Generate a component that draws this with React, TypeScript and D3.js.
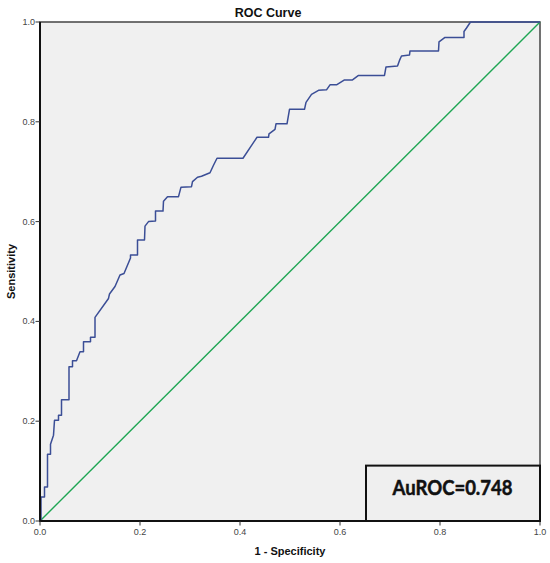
import React from "react";
import * as d3 from "d3";

const fpr: number[] = [
  0, 0.002, 0.002, 0.009, 0.009, 0.015, 0.015, 0.021, 0.021, 0.027, 0.029, 0.037, 0.037, 0.043, 0.043,
  0.058, 0.058, 0.065, 0.065, 0.073, 0.08, 0.087, 0.087, 0.101, 0.101, 0.11, 0.11, 0.137, 0.139, 0.15,
  0.16, 0.168, 0.181, 0.181, 0.195, 0.195, 0.209, 0.21, 0.217, 0.231, 0.231, 0.246, 0.247, 0.255, 0.277,
  0.282, 0.303, 0.305, 0.315, 0.323, 0.34, 0.347, 0.354, 0.406, 0.434, 0.457, 0.458, 0.47, 0.472, 0.494,
  0.499, 0.529, 0.532, 0.543, 0.557, 0.573, 0.58, 0.593, 0.609, 0.625, 0.637, 0.689, 0.692, 0.715, 0.719,
  0.723, 0.739, 0.74, 0.797, 0.798, 0.81, 0.848, 0.848, 0.853, 0.861, 1.0,
];
const tpr: number[] = [
  0, 0, 0.048, 0.048, 0.068, 0.068, 0.134, 0.134, 0.154, 0.172, 0.202, 0.202, 0.212, 0.212, 0.243,
  0.243, 0.309, 0.309, 0.321, 0.321, 0.339, 0.339, 0.359, 0.359, 0.368, 0.368, 0.408, 0.446, 0.455, 0.47,
  0.493, 0.496, 0.527, 0.533, 0.533, 0.563, 0.563, 0.591, 0.6, 0.601, 0.621, 0.621, 0.641, 0.65, 0.65,
  0.669, 0.67, 0.68, 0.689, 0.691, 0.698, 0.713, 0.727, 0.727, 0.769, 0.769, 0.776, 0.785, 0.796, 0.796,
  0.825, 0.825, 0.839, 0.855, 0.863, 0.864, 0.874, 0.874, 0.884, 0.884, 0.893, 0.893, 0.91, 0.912, 0.923,
  0.932, 0.934, 0.942, 0.942, 0.96, 0.969, 0.969, 0.981, 0.988, 1.0, 1.0,
];
const refLine: number[] = [0, 1];
const tickValues: number[] = [0, 0.2, 0.4, 0.6, 0.8, 1.0];
const tickLabels: string[] = ["0.0", "0.2", "0.4", "0.6", "0.8", "1.0"];
const title = "ROC Curve";
const xLabel = "1 - Specificity";
const yLabel = "Sensitivity";
const annotation = "AuROC=0.748";

export default function App() {
  const left = 40, right = 540, top = 22, bottom = 521;
  const x = d3.scaleLinear().domain([0, 1]).range([left, right]);
  const y = d3.scaleLinear().domain([0, 1]).range([bottom, top]);
  const pts: [number, number][] = fpr.map((f, i) => [f, tpr[i]]);
  const line = d3.line<[number, number]>().x((d) => x(d[0])).y((d) => y(d[1]));
  const diag = line(refLine.map((v) => [v, v] as [number, number])) || "";
  const roc = line(pts) || "";
  const tickFont = "'Liberation Sans', Arial, sans-serif";
  const boxX0 = x(0.652), boxY0 = y(0.111);

  return (
    <svg
      width={550}
      height={563}
      style={{ position: "absolute", left: 0, top: 0, display: "block", background: "#fff" }}
    >
      <rect x={0} y={0} width={550} height={563} fill="#fff" />
      <rect x={left} y={top} width={right - left} height={bottom - top} fill="#f0f0f0" stroke="#444" strokeWidth={1.5} />
      <text x={268} y={16.7} textAnchor="middle" fontFamily={tickFont} fontWeight="bold" fontSize={12.5} fill="#111">
        {title}
      </text>
      <path d={diag} fill="none" stroke="#1fa654" strokeWidth={1.4} />
      <path d={roc} fill="none" stroke="#3b4e96" strokeWidth={1.5} strokeLinejoin="round" />
      <line x1={left} y1={top} x2={left} y2={bottom + 1} stroke="#111" strokeWidth={2} />
      <line x1={left - 1} y1={bottom} x2={right + 1} y2={bottom} stroke="#111" strokeWidth={2} />
      {tickValues.map((t, i) => (
        <g key={"y" + i}>
          <line x1={left - 4.5} x2={left} y1={y(t)} y2={y(t)} stroke="#333" strokeWidth={1} />
          <text x={left - 5} y={y(t) + 3} textAnchor="end" fontFamily={tickFont} fontSize={9} fill="#444">
            {tickLabels[i]}
          </text>
        </g>
      ))}
      {tickValues.map((t, i) => (
        <g key={"x" + i}>
          <line x1={x(t)} x2={x(t)} y1={bottom} y2={bottom + 4.5} stroke="#333" strokeWidth={1} />
          <text x={x(t)} y={535} textAnchor="middle" fontFamily={tickFont} fontSize={9} fill="#444">
            {tickLabels[i]}
          </text>
        </g>
      ))}
      <text x={290} y={554.5} textAnchor="middle" fontFamily={tickFont} fontWeight="bold" fontSize={11} fill="#111">
        {xLabel}
      </text>
      <text
        transform={`translate(14.5,${(top + bottom) / 2}) rotate(-90)`}
        textAnchor="middle"
        fontFamily={tickFont}
        fontWeight="bold"
        fontSize={11}
        fill="#111"
      >
        {yLabel}
      </text>
      <rect
        x={boxX0}
        y={boxY0}
        width={right - boxX0}
        height={bottom - boxY0}
        fill="#efefef"
        stroke="#111"
        strokeWidth={2}
      />
      <text
        x={452.5}
        y={495}
        textAnchor="middle"
        fontFamily="Lato, 'Open Sans', sans-serif"
        fontWeight="bold"
        fontSize={20}
        fill="#111"
        stroke="#111"
        strokeWidth={0.5}
        textLength={120}
        lengthAdjust="spacingAndGlyphs"
      >
        {annotation}
      </text>
    </svg>
  );
}
